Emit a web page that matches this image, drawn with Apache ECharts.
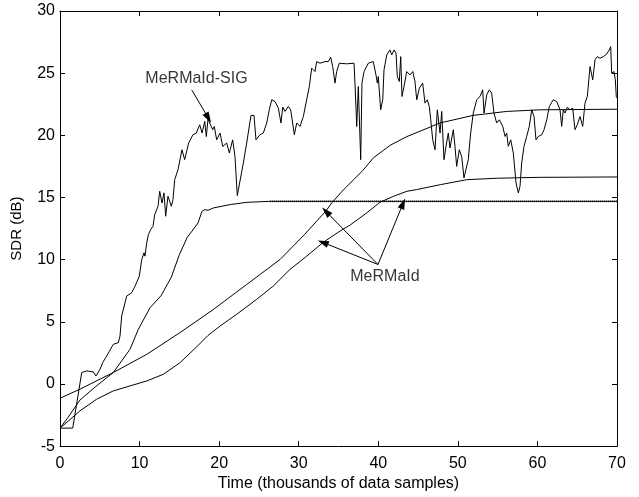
<!DOCTYPE html>
<html>
<head>
<meta charset="utf-8">
<script src="https://cdn.jsdelivr.net/npm/echarts@6/dist/echarts.min.js"></script>
<style>
  html, body { margin: 0; padding: 0; background: #fff; }
  #chart { width: 639px; height: 497px; }
</style>
</head>
<body>
<div id="chart"></div>
<script>
// x: time in thousands of samples, y: SDR in dB
const xTicks = [0, 10, 20, 30, 40, 50, 60, 70]
const yTicks = [-5, 0, 5, 10, 15, 20, 25, 30]

const sigCurve = [
  [0, -3.56], [1.6, -3.55], [2.73, 0.92], [3.36, 1.05], [4.18, 0.97], [4.52, 0.64], [5.03, 1.18],
  [5.37, 1.72], [5.87, 2.25], [6.7, 3.19], [7.33, 3.32], [7.54, 3.85], [7.75, 5.46], [8.38, 7.07],
  [9.01, 7.34], [9.43, 7.87], [9.97, 8.67], [10.27, 10.01], [10.56, 10.55], [10.68, 10.28],
  [10.9, 11.35], [11.1, 12.0], [11.4, 12.42], [11.69, 12.68], [11.9, 13.62], [12.32, 14.29],
  [12.53, 15.5], [12.82, 14.56], [13.07, 15.37], [13.28, 13.49], [13.57, 15.1], [13.99, 14.29],
  [14.2, 14.83], [14.42, 16.44], [14.83, 17.24], [15.33, 18.84], [15.67, 18.04], [16.17, 19.38],
  [16.71, 20.05], [17.13, 20.18], [17.56, 20.85], [17.85, 20.18], [18.19, 21.12], [18.39, 19.9],
  [18.6, 21.3], [18.85, 21.31], [19.19, 20.45], [19.39, 20.71], [19.69, 19.64], [20.11, 20.18],
  [20.45, 19.1], [20.95, 19.38], [21.28, 18.58], [21.7, 19.64], [21.99, 18.3], [22.28, 15.15],
  [22.53, 15.15], [23.04, 17.77], [23.46, 19.38], [24.0, 21.6], [24.38, 21.6], [24.63, 19.64],
  [25.13, 20.05], [25.55, 20.18], [25.98, 20.99], [26.3, 22.05], [26.61, 22.86], [27.02, 22.72],
  [27.44, 22.19], [27.77, 20.99], [27.99, 22.27], [28.28, 21.92], [28.69, 22.32], [28.99, 22.05],
  [29.45, 20.05], [29.75, 20.99], [30.16, 20.72], [30.58, 21.51], [31.0, 22.86], [31.33, 23.92],
  [31.63, 25.4], [32.05, 25.13], [32.26, 25.93], [32.68, 25.8], [33.3, 25.93], [33.72, 25.93],
  [34.02, 26.28], [34.27, 25.53], [34.56, 24.2], [34.77, 25.13], [35.1, 25.8], [36.03, 25.75],
  [36.95, 25.8], [37.07, 24.2], [37.29, 20.71], [37.49, 23.92], [37.79, 18.04], [37.95, 24.2],
  [38.21, 25.13], [38.46, 25.0], [38.75, 25.8], [39.37, 25.93], [39.71, 24.86], [39.88, 24.2],
  [40.0, 24.73], [40.3, 22.05], [40.56, 22.86], [40.72, 25.26], [41.06, 26.47], [41.47, 26.87],
  [41.69, 26.47], [41.98, 26.87], [42.23, 26.6], [42.39, 24.73], [42.64, 24.33], [42.82, 26.33],
  [42.98, 23.12], [43.23, 23.92], [43.57, 25.13], [43.99, 24.86], [44.33, 25.13], [44.61, 24.33],
  [44.83, 22.86], [45.16, 23.79], [45.58, 24.2], [45.87, 22.59], [46.16, 22.86], [46.41, 22.32],
  [46.59, 21.25], [46.84, 19.64], [47.13, 18.84], [47.42, 22.05], [47.76, 20.18], [47.97, 21.92],
  [48.26, 18.04], [48.51, 19.11], [48.8, 20.18], [49.01, 18.98], [49.43, 20.45], [49.64, 19.11],
  [49.85, 17.5], [50.18, 18.84], [50.48, 18.3], [50.77, 16.57], [51.02, 16.43], [51.31, 18.04],
  [51.61, 20.18], [51.94, 21.79], [52.37, 22.86], [52.78, 23.12], [53.12, 23.66], [53.29, 21.79],
  [53.63, 23.26], [53.95, 23.66], [54.25, 23.39], [54.54, 21.79], [54.88, 20.99], [55.21, 21.25],
  [55.64, 20.72], [55.93, 19.91], [56.14, 20.18], [56.34, 19.11], [56.64, 19.64], [56.97, 18.58],
  [57.31, 16.17], [57.6, 15.37], [57.81, 15.9], [58.02, 17.77], [58.31, 19.11], [58.65, 19.91],
  [58.98, 20.72], [59.28, 22.05], [59.57, 21.51], [59.82, 19.64], [60.11, 19.91], [60.54, 20.05],
  [60.83, 20.45], [61.17, 21.25], [61.49, 22.32], [61.99, 22.86], [62.42, 22.72], [62.84, 22.05],
  [63.05, 20.72], [63.25, 22.05], [63.47, 21.79], [63.76, 22.27], [64.09, 22.05], [64.43, 22.19],
  [64.72, 20.45], [65.01, 20.85], [65.35, 21.51], [65.69, 20.72], [65.98, 22.59], [66.27, 23.12],
  [66.61, 25.53], [66.95, 24.46], [67.24, 26.07], [67.53, 26.33], [67.86, 26.2], [68.28, 26.33],
  [68.71, 26.55], [69.03, 26.87], [69.21, 27.13], [69.33, 25.0], [69.62, 25.13], [69.79, 24.46],
  [69.91, 23.12], [70, 23.0]
]

// curve that levels off near 14.7 dB: rising part, then the flat part
const plateauRise = [
  [0, -3.56], [1, -2.7], [2.5, -1.3], [4.5, -0.2], [6.7, 0.92], [8.8, 2.79], [9.84, 4.39],
  [11.31, 6.13], [12.7, 7.1], [14.0, 8.6], [15.0, 10.4], [16.0, 11.8], [16.6, 12.3],
  [17.34, 12.95], [17.85, 13.89], [18.2, 14.02], [18.6, 13.97], [19.3, 14.16], [21.4, 14.43],
  [23.5, 14.61], [26.4, 14.69]
]
const plateauFlat = [[26.4, 14.69], [70, 14.69]]

const upperCurve = [
  [0, -1.15], [2.51, -0.42], [6.7, 0.92], [10.9, 2.38], [15.08, 4.13], [19.27, 5.99],
  [23.46, 8.0], [27.65, 10.01], [30.7, 12.0], [33.4, 13.9], [34.2, 14.6], [35.6, 15.6],
  [38.1, 17.2], [39.4, 18.2], [41.5, 19.2], [43.6, 19.9], [47.8, 21.0], [51.9, 21.6],
  [56.1, 21.92], [60.3, 22.05], [70, 22.1]
]

const lowerCurve = [
  [0, -3.56], [2.5, -2.17], [4.6, -1.23], [6.7, -0.56], [8.8, -0.16], [10.9, 0.24], [13.0, 0.78],
  [15.1, 1.72], [17.2, 3.0], [18.6, 3.9], [20.1, 4.65], [22.2, 5.6], [24.7, 6.8], [26.8, 7.87],
  [28.9, 9.21], [31.0, 10.28], [33.1, 11.4], [35.2, 12.3], [36.5, 12.8], [38.55, 13.76],
  [40.2, 14.61], [41.9, 15.09], [43.6, 15.5], [44.8, 15.63], [47.8, 16.03], [51.1, 16.43],
  [55.0, 16.55], [60.3, 16.62], [70, 16.65]
]

// annotations (data coordinates)
const sigLabel = { text: 'MeRMaId-SIG', at: [17.15, 24.54] }
const sigArrows = [[[16.55, 23.66], [18.64, 21.39]]]
const merLabel = { text: 'MeRMaId', at: [40.84, 8.65] }
const merArrows = [
  [[39.96, 9.61], [33.43, 13.87]],
  [[39.96, 9.61], [33.05, 11.38]],
  [[39.96, 9.61], [43.11, 14.51]]
]

const font = 'Liberation Sans, Arial, sans-serif'

const chart = echarts.init(document.getElementById('chart'))

const axisCommon = {
  type: 'value',
  axisLine: { show: true, onZero: false, lineStyle: { color: '#000', width: 1 } },
  axisTick: { show: true, inside: true, length: 5, lineStyle: { color: '#000' } },
  splitLine: { show: false }
}

const curve = (data) => ({
  type: 'line',
  data: data,
  showSymbol: false,
  smooth: false,
  silent: true,
  animation: false,
  lineStyle: { color: '#000', width: 1 }
})

const arrowLines = (pairs) => pairs.map(p => [{ coord: p[0] }, { coord: p[1] }])

const textSeries = (lab) => ({
  type: 'scatter',
  data: [lab.at],
  symbolSize: 1,
  itemStyle: { color: 'rgba(0,0,0,0)' },
  silent: true,
  animation: false,
  label: {
    show: true,
    position: 'inside',
    formatter: lab.text,
    color: '#000',
    fontSize: 16,
    fontFamily: font
  }
})

chart.setOption({
  animation: false,
  grid: { left: 60, right: 22, top: 11, bottom: 50 },
  xAxis: [
    Object.assign({}, axisCommon, {
      min: xTicks[0], max: xTicks[xTicks.length - 1], interval: 10,
      name: 'Time (thousands of data samples)',
      nameLocation: 'middle', nameGap: 29,
      nameTextStyle: { color: '#000', fontSize: 16, fontFamily: font },
      axisLabel: { color: '#000', fontSize: 16, fontFamily: font, margin: 9 }
    }),
    Object.assign({}, axisCommon, {
      position: 'top',
      min: xTicks[0], max: xTicks[xTicks.length - 1], interval: 10,
      axisLabel: { show: false }
    })
  ],
  yAxis: [
    Object.assign({}, axisCommon, {
      min: yTicks[0], max: yTicks[yTicks.length - 1], interval: 5,
      name: 'SDR (dB)',
      nameLocation: 'middle', nameGap: 36,
      nameTextStyle: { color: '#000', fontSize: 15, fontFamily: font },
      axisLabel: { color: '#000', fontSize: 16, fontFamily: font, margin: 5 }
    }),
    Object.assign({}, axisCommon, {
      position: 'right',
      min: yTicks[0], max: yTicks[yTicks.length - 1], interval: 5,
      axisLabel: { show: false }
    })
  ],
  series: [
    Object.assign(curve(sigCurve), {
      markLine: {
        silent: true,
        symbol: ['none', 'triangle'],
        symbolSize: [7, 11],
        label: { show: false },
        lineStyle: { color: '#000', width: 1, type: 'solid' },
        data: arrowLines(sigArrows.concat(merArrows))
      }
    }),
    curve(plateauRise),
    Object.assign(curve(plateauFlat), { lineStyle: { color: '#333', width: 1.8, type: [1, 1] } }),
    Object.assign(curve(plateauFlat), { lineStyle: { color: '#000', width: 1 } }),
    curve(upperCurve),
    curve(lowerCurve),
    textSeries(sigLabel),
    textSeries(merLabel)
  ]
})
</script>
</body>
</html>
